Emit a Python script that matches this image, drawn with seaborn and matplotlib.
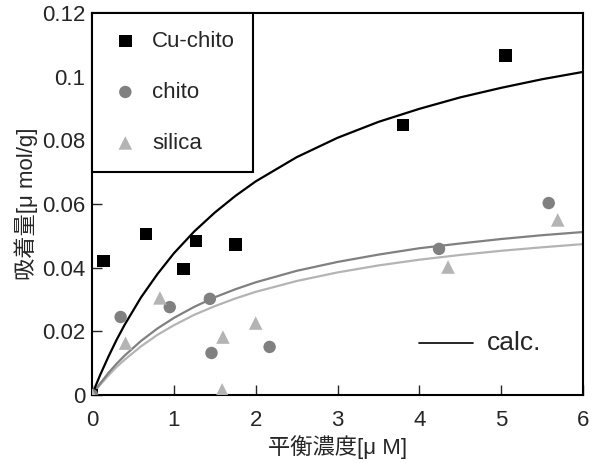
import numpy as np
import pandas as pd
import matplotlib
matplotlib.use("Agg")
import matplotlib.pyplot as plt
import seaborn as sns

# measured points
cu_x = [0.0, 0.14, 0.66, 1.12, 1.27, 1.75, 3.80, 5.05]
cu_y = [0.0, 0.0421, 0.0506, 0.0396, 0.0484, 0.0474, 0.0848, 0.1066]
chito_x = [0.0, 0.35, 0.95, 1.44, 1.46, 2.17, 4.24, 5.58]
chito_y = [0.0, 0.0245, 0.0276, 0.0302, 0.0132, 0.0151, 0.0459, 0.0603]
silica_x = [0.0, 0.41, 0.83, 1.59, 1.60, 2.00, 4.35, 5.69]
silica_y = [0.0, 0.0163, 0.0305, 0.0016, 0.0182, 0.0226, 0.0402, 0.0550]

# calc. curves
calc_x = [0, 0.05, 0.1, 0.2, 0.3, 0.4, 0.6, 0.8, 1.0, 1.25, 1.5, 1.75, 2, 2.5, 3, 3.5,
          4, 4.5, 5, 5.5, 6]
calc_cu = [0, 0.0032, 0.0063, 0.0120, 0.0173, 0.0221, 0.0307, 0.0380, 0.0445, 0.0514,
           0.0573, 0.0625, 0.0671, 0.0747, 0.0808, 0.0858, 0.0899, 0.0935, 0.0965,
           0.0992, 0.1015]
calc_chito = [0, 0.0019, 0.0036, 0.0069, 0.0098, 0.0124, 0.0170, 0.0209, 0.0242, 0.0277,
              0.0307, 0.0332, 0.0354, 0.0390, 0.0418, 0.0441, 0.0461, 0.0476, 0.0490,
              0.0502, 0.0512]
calc_silica = [0, 0.0017, 0.0032, 0.0061, 0.0088, 0.0111, 0.0153, 0.0189, 0.0219, 0.0252,
               0.0279, 0.0303, 0.0324, 0.0358, 0.0385, 0.0407, 0.0425, 0.0440, 0.0453,
               0.0464, 0.0474]

xticks = [0, 1, 2, 3, 4, 5, 6]
yticks = [0, 0.02, 0.04, 0.06, 0.08, 0.1, 0.12]
ytick_labels = ["0", "0.02", "0.04", "0.06", "0.08", "0.1", "0.12"]

sns.set_style("white")
plt.rcParams['font.family'] = ['Liberation Sans', 'Noto Sans CJK JP', 'DejaVu Sans']

black = "#000000"
gray = "#808080"
lgray = "#b4b4b4"

fig = plt.figure(figsize=(5.95, 4.63), dpi=100)
ax = fig.add_axes([0.1546, 0.1469, 0.8254, 0.825])

sns.lineplot(x=calc_x, y=calc_silica, color=lgray, lw=1.6, ax=ax)
sns.lineplot(x=calc_x, y=calc_chito, color=gray, lw=1.6, ax=ax)
sns.lineplot(x=calc_x, y=calc_cu, color=black, lw=1.6, ax=ax)

sns.scatterplot(x=cu_x, y=cu_y, marker="s", s=85, color=black, edgecolor="none",
                label="Cu-chito", ax=ax, zorder=3)
sns.scatterplot(x=chito_x, y=chito_y, marker="o", s=80, color=gray, edgecolor="none",
                label="chito", ax=ax, zorder=3)
sns.scatterplot(x=silica_x, y=silica_y, marker="^", s=95, color=lgray, edgecolor="none",
                label="silica", ax=ax, zorder=3)

ax.set_xlim(0, 6)
ax.set_ylim(0, 0.12)
ax.set_xticks(xticks)
ax.set_yticks(yticks)
ax.set_yticklabels(ytick_labels)
ax.tick_params(direction="in", length=7, width=1, labelsize=16, pad=5,
               top=False, right=False, bottom=True, left=True)
ax.tick_params(axis="x", pad=11)
for sp in ax.spines.values():
    sp.set_linewidth(1.5)
    sp.set_color("black")

ax.set_xlabel("平衡濃度[μ M]", fontsize=16, labelpad=2.5)
ax.set_ylabel("吸着量[μ mol/g]", fontsize=16, labelpad=3)

leg = ax.legend(loc="upper left", borderaxespad=0, fontsize=16, frameon=True,
                fancybox=False, edgecolor="black", labelspacing=1.35,
                borderpad=0.8, handletextpad=0.5, handlelength=1.4)
leg.get_frame().set_linewidth(1.5)
leg.get_frame().set_alpha(1)

# calc. annotation
ax.plot([3.99, 4.66], [0.0163, 0.0163], color="black", lw=1.2)
ax.text(4.83, 0.0163, "calc.", fontsize=19, va="center", ha="left")

fig.savefig("out.png", dpi=100)
